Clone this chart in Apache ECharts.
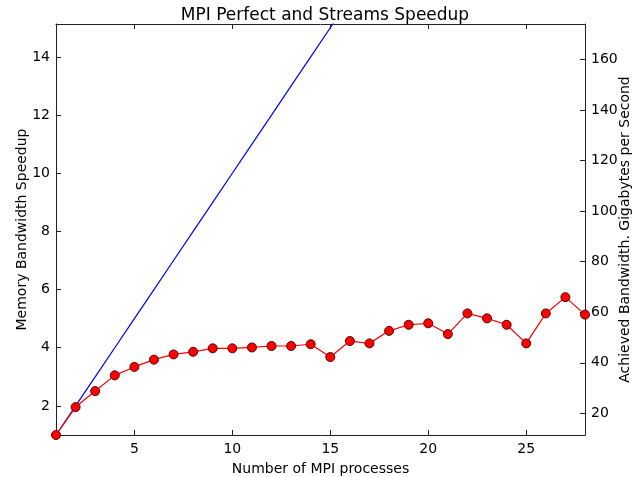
<!DOCTYPE html>
<html>
<head>
<meta charset="utf-8">
<script src="https://cdn.jsdelivr.net/npm/echarts@6/dist/echarts.min.js"></script>
<style>
  html, body { margin: 0; padding: 0; background: #fff; }
  #chart { width: 632px; height: 477px; }
</style>
</head>
<body>
<div id="chart"></div>
<script>
// MPI process counts
var procs = [1, 2, 3, 4, 5, 6, 7, 8, 9, 10, 11, 12, 13, 14,
             15, 16, 17, 18, 19, 20, 21, 22, 23, 24, 25, 26, 27, 28];
// perfect speedup (same as the process count)
var perfect = [1, 2, 3, 4, 5, 6, 7, 8, 9, 10, 11, 12, 13, 14,
               15, 16, 17, 18, 19, 20, 21, 22, 23, 24, 25, 26, 27, 28];
// measured streams speedup
var streams = [1.00, 1.96, 2.51, 3.05, 3.34, 3.59, 3.77, 3.86, 3.98, 3.98,
               4.01, 4.06, 4.06, 4.12, 3.68, 4.23, 4.15, 4.58, 4.79, 4.84,
               4.47, 5.18, 5.01, 4.79, 4.15, 5.18, 5.74, 5.14];
// tick labels
var xTicks = [5, 10, 15, 20, 25];
var leftTicks = [2, 4, 6, 8, 10, 12, 14];
var rightTicks = [20, 40, 60, 80, 100, 120, 140, 160];

var font = 'DejaVu Sans';
var axisCol = '#222';

function pairs(ys) {
    var out = [];
    for (var i = 0; i < procs.length; i++) out.push([procs[i], ys[i]]);
    return out;
}

var chart = echarts.init(document.getElementById('chart'), null, { renderer: 'canvas' });
var option = {
    animation: false,
    backgroundColor: '#fff',
    textStyle: { fontFamily: font },
    title: {
        text: 'MPI Perfect and Streams Speedup',
        left: 320, top: 2, textAlign: 'center',
        textStyle: { fontFamily: font, fontSize: 17, fontWeight: 'normal', color: '#000' }
    },
    grid: { left: 56, right: 47, top: 24, bottom: 42, outerBoundsMode: 'none', containLabel: false },
    xAxis: [{
        type: 'value', min: 1, max: 28,
        name: 'Number of MPI processes', nameLocation: 'middle', nameGap: 27,
        nameMoveOverlap: false,
        nameTextStyle: { fontFamily: font, fontSize: 14, color: '#000' },
        axisLine: { lineStyle: { color: axisCol, width: 1 } },
        axisTick: { inside: true, length: 5, customValues: xTicks, lineStyle: { color: axisCol } },
        axisLabel: { customValues: xTicks, fontSize: 14, color: '#000', margin: 7 },
        splitLine: { show: false }
    }, {
        type: 'value', min: 1, max: 28, position: 'top',
        axisLine: { lineStyle: { color: axisCol, width: 1 } },
        axisTick: { inside: true, length: 5, customValues: xTicks, lineStyle: { color: axisCol } },
        axisLabel: { show: false },
        splitLine: { show: false }
    }],
    yAxis: [{
        type: 'value', min: 1, max: 15.13, position: 'left',
        name: 'Memory Bandwidth Speedup', nameLocation: 'middle', nameGap: 27,
        nameMoveOverlap: false,
        nameTextStyle: { fontFamily: font, fontSize: 14, color: '#000' },
        axisLine: { show: true, lineStyle: { color: axisCol, width: 1 } },
        axisTick: { inside: true, length: 5, customValues: leftTicks, lineStyle: { color: axisCol } },
        axisLabel: { customValues: leftTicks, fontSize: 14, color: '#000', margin: 6 },
        splitLine: { show: false }
    }, {
        type: 'value', min: 11.4, max: 174.1, position: 'right',
        name: 'Achieved Bandwidth. Gigabytes per Second', nameLocation: 'middle', nameGap: 33,
        nameRotate: 90, nameMoveOverlap: false,
        nameTextStyle: { fontFamily: font, fontSize: 14, color: '#000' },
        axisLine: { show: true, lineStyle: { color: axisCol, width: 1 } },
        axisTick: { inside: true, length: 5, customValues: rightTicks, lineStyle: { color: axisCol } },
        axisLabel: { customValues: rightTicks, fontSize: 14, color: '#000', margin: 6 },
        splitLine: { show: false }
    }],
    series: [{
        name: 'Perfect',
        type: 'line',
        xAxisIndex: 0, yAxisIndex: 0,
        data: pairs(perfect),
        showSymbol: false,
        clip: true,
        lineStyle: { color: '#0000ff', width: 1.2 },
        z: 2
    }, {
        name: 'Streams',
        type: 'line',
        xAxisIndex: 0, yAxisIndex: 0,
        data: pairs(streams),
        symbol: 'circle',
        symbolSize: 9,
        clip: false,
        lineStyle: { color: '#ff0000', width: 1.2 },
        itemStyle: { color: '#ff0000', borderColor: '#5a0000', borderWidth: 1 },
        z: 3
    }]
};
chart.setOption(option);
</script>
</body>
</html>
